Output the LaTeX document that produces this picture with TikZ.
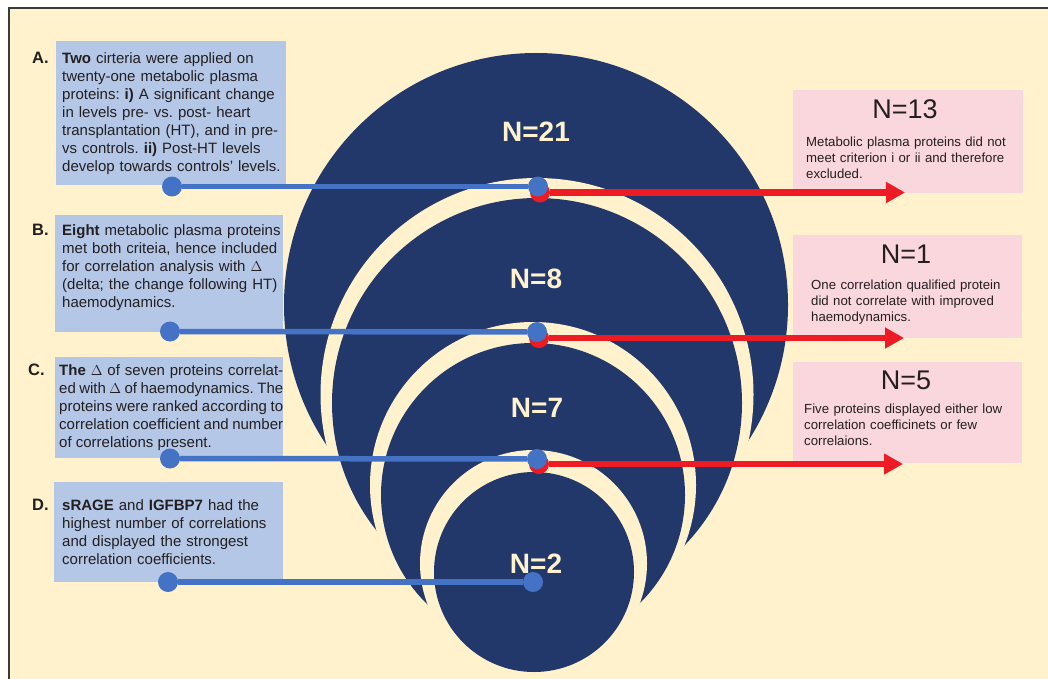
\documentclass[tikz,border=0pt]{standalone}
\usepackage{fontspec}
\setmainfont{Liberation Sans}
\usetikzlibrary{arrows.meta}
\definecolor{cream}{HTML}{FFF2CC}
\definecolor{dark_blue}{HTML}{22386A}
\definecolor{light_blue}{HTML}{B4C7E7}
\definecolor{mid_blue}{HTML}{4472C4}
\definecolor{pink_box}{HTML}{FAD7DC}
\definecolor{red_arrow}{HTML}{ED1C24}
\definecolor{text_grey}{HTML}{231F20}
\definecolor{frame_grey}{HTML}{3A3A3A}
\frenchspacing

\begin{document}
\begin{tikzpicture}[x=1pt, y=-1pt,
        infobox/.style={fill=light_blue, anchor=north west, inner sep=0pt, outer sep=0pt},
        outbox/.style={fill=pink_box, anchor=north west, inner sep=0pt, outer sep=0pt},
        infotext/.style={anchor=base west, inner sep=0pt, text width=235pt, align=left, text=text_grey, font=\fontsize{15}{18}\selectfont},
        outtext/.style={anchor=base west, inner sep=0pt, text width=215pt, align=left, text=text_grey, font=\fontsize{13.2}{16}\selectfont},
        outtitle/.style={anchor=base, inner sep=0pt, text=text_grey, font=\fontsize{27}{30}\selectfont},
        letter/.style={anchor=base west, inner sep=0pt, text=text_grey, font=\fontsize{16.5}{18}\selectfont\bfseries},
        countlabel/.style={anchor=base, inner sep=0pt, text=cream, font=\fontsize{28}{30}\selectfont\bfseries},
        bluedot/.style={circle, fill=mid_blue, minimum size=20pt, inner sep=0pt, outer sep=0pt},
        reddot/.style={circle, fill=red_arrow, minimum size=20pt, inner sep=0pt, outer sep=0pt},
        link/.style={mid_blue, line width=5.5pt},
        drop/.style={red_arrow, line width=6.5pt, -{Triangle[length=19pt,width=20pt]}}
    ]
        \useasboundingbox (0,0) rectangle (1048,679);
        % Fond et cadre
        \fill[white] (0,0) rectangle (1048,679);
        \fill[cream] (9,8) rectangle (1048,679);
        \draw[frame_grey, line width=1.5pt] (9,679) -- (9,8) -- (1048,8);
        % Cercles emboites
        \fill[dark_blue] (536,305) circle[radius=252];
        \fill[cream] (537,394.5) circle[radius=216.5];
        \fill[dark_blue] (537,403) circle[radius=205];
        \fill[cream] (533,485) circle[radius=163];
        \fill[dark_blue] (533,495) circle[radius=152];
        \fill[cream] (533.5,563.5) circle[radius=113.5];
        \fill[dark_blue] (534,572) circle[radius=100];
        % Boites A-D
        \node[infobox, minimum width=230pt, minimum height=144pt] (boxA) at (56,41) {};
        \node[infobox, minimum width=228pt, minimum height=117pt] (boxB) at (55,215) {};
        \node[infobox, minimum width=228pt, minimum height=101pt] (boxC) at (55,357) {};
        \node[infobox, minimum width=229pt, minimum height=100pt] (boxD) at (54,482) {};
        \node[letter] (labA) at (32,64) {A.};
        \node[letter] (labB) at (32,235) {B.};
        \node[letter] (labC) at (28,375) {C.};
        \node[letter] (labD) at (32,510) {D.};
        \node[infotext] (textA) at (62,64) {\textbf{Two} cirteria were applied on\\
            twenty-one metabolic plasma\\
            proteins: \textbf{i)} A significant change\\
            in levels pre- vs. post- heart\\
            transplantation (HT), and in pre-\\
            vs controls. \textbf{ii)} Post-HT levels\\
            develop towards controls’ levels.};
        \node[infotext] (textB) at (62,235) {\textbf{Eight} metabolic plasma proteins\\
            met both criteia, hence included\\
            for correlation analysis with $\Delta$\\
            (delta; the change following HT)\\
            haemodynamics.};
        \node[infotext, text width=224pt, align=justify] (textC) at (59,375) {\textbf{The} $\Delta$ of seven proteins correlat-\linebreak
            ed with $\Delta$ of haemodynamics. The\linebreak
            proteins were ranked according to\linebreak
            correlation coefficient and number\linebreak
            of correlations present.};
        \node[infotext] (textD) at (62,510) {\textbf{sRAGE} and \textbf{IGFBP7} had the\\
            highest number of correlations\\
            and displayed the strongest\\
            correlation coefficients.};
        % Boites exclues
        \node[outbox, minimum width=230pt, minimum height=103pt] (outA) at (793,90) {};
        \node[outbox, minimum width=229pt, minimum height=103pt] (outB) at (793,235) {};
        \node[outbox, minimum width=229pt, minimum height=101pt] (outC) at (793,362) {};
        \node[outtitle] (n13) at (905,118.5) {N=13};
        \node[outtitle] (n1) at (906,263) {N=1};
        \node[outtitle] (n5) at (906,389) {N=5};
        \node[outtext] (exA) at (806,146.5) {Metabolic plasma proteins did not\\
            meet criterion i or ii and therefore\\
            excluded.};
        \node[outtext] (exB) at (811,289.5) {One correlation qualified protein\\
            did not correlate with improved\\
            haemodynamics.};
        \node[outtext] (exC) at (804,413) {Five proteins displayed either low\\
            correlation coefficinets or few\\
            correlaions.};
        % Fleches rouges
        \node[reddot] (redA) at (540,192.5) {};
        \node[reddot] (redB) at (539,338) {};
        \node[reddot] (redC) at (539,464) {};
        \coordinate (endA) at (905,192.5);
        \coordinate (endB) at (904,338);
        \coordinate (endC) at (903,464);
        \draw[drop] (redA) -- (endA);
        \draw[drop] (redB) -- (endB);
        \draw[drop] (redC) -- (endC);
        % Liens bleus
        \node[bluedot] (dotA) at (172,186.5) {};
        \node[bluedot] (dotB) at (170,331.5) {};
        \node[bluedot] (dotC) at (170,458.5) {};
        \node[bluedot] (dotD) at (168,582) {};
        \node[bluedot] (hubA) at (538,186.5) {};
        \node[bluedot] (hubB) at (537,332) {};
        \node[bluedot] (hubC) at (537,459) {};
        \node[bluedot] (hubD) at (533,582) {};
        \draw[link] (dotA) -- (hubA);
        \draw[link] (dotB) -- (hubB);
        \draw[link] (dotC) -- (hubC);
        \draw[link] (dotD) -- (hubD);
        % Effectifs
        \node[countlabel] (n21) at (536,142) {N=21};
        \node[countlabel] (n8) at (536,288) {N=8};
        \node[countlabel] (n7) at (537,417.5) {N=7};
        \node[countlabel] (n2) at (536,573) {N=2};
    \end{tikzpicture}
\end{document}
